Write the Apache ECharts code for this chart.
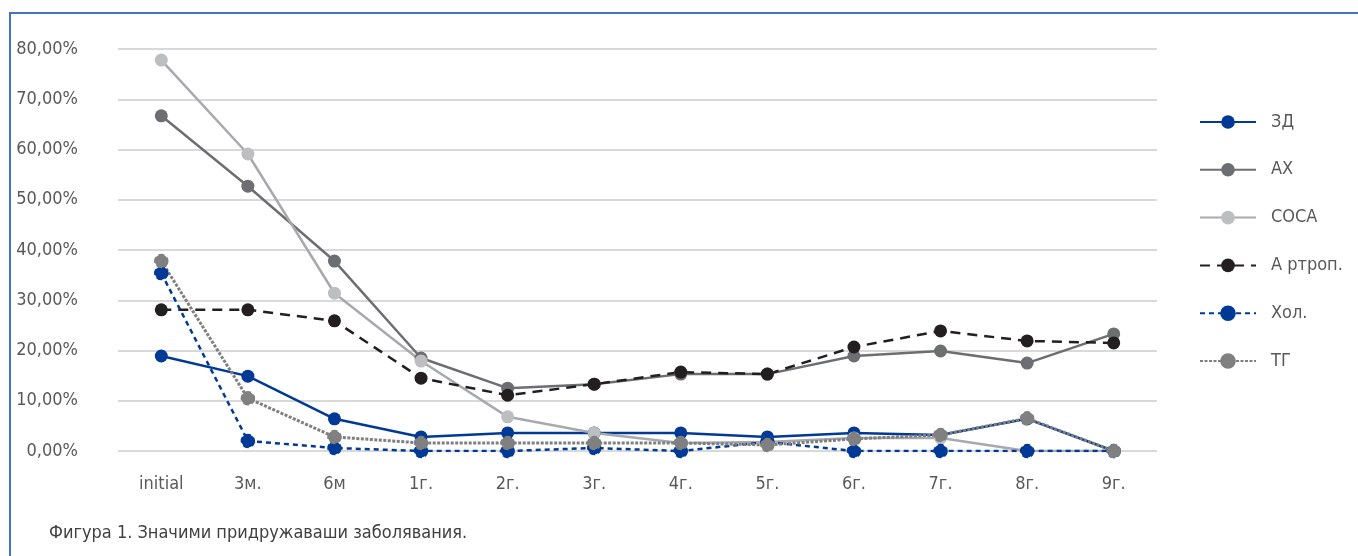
<!DOCTYPE html>
<html>
<head>
<meta charset="utf-8">
<script src="https://cdn.jsdelivr.net/npm/echarts@6/dist/echarts.min.js"></script>
<style>
  html, body { margin: 0; padding: 0; background: #fff; }
  #frame {
    position: absolute; left: 9px; top: 12px; width: 1349px; height: 544px;
    border-top: 2px solid #4472c4; border-left: 2px solid #4472c4;
  }
  #chart { position: absolute; left: 0; top: 0; width: 1358px; height: 556px; }
</style>
</head>
<body>
<div id="frame"></div>
<div id="chart"></div>
<script>
"use strict";

const categories = ["initial", "3м.", "6м", "1г.", "2г.", "3г.", "4г.", "5г.", "6г.", "7г.", "8г.", "9г."];

const zd     = [18.9, 14.9, 6.4, 2.8, 3.6, 3.6, 3.6, 2.8, 3.6, 3.2, 6.4, 0];
const ax     = [66.7, 52.7, 37.8, 18.5, 12.5, 13.3, 15.3, 15.3, 18.9, 19.9, 17.5, 23.3];
const coca   = [77.8, 59.1, 31.4, 17.9, 6.8, 3.6, 1.6, 1.8, 2.6, 2.6, 0, 0];
const artrop = [28.1, 28.1, 25.9, 14.5, 11.1, 13.3, 15.7, 15.3, 20.7, 23.9, 21.9, 21.5];
const hol    = [35.4, 2.0, 0.6, 0, 0, 0.6, 0, 1.8, 0, 0, 0, 0];
const tg     = [37.8, 10.5, 2.8, 1.6, 1.6, 1.6, 1.6, 1.2, 2.4, 3.2, 6.5, 0];

const fontFamily = "'Liberation Sans Narrow', 'DejaVu Sans Condensed', sans-serif";
const textColor = "#595959";

const getElement = (id) => document.getElementById(id);
const chart = echarts.init(getElement("chart"), null, { width: 1358, height: 556 });

const makeSeries = (name, data, color, lineType, width, markerColor, borderType) => ({
  name,
  type: "line",
  data,
  symbol: "circle",
  symbolSize: 13,
  lineStyle: { color, width, type: lineType },
  itemStyle: {
    color: markerColor || color,
    borderColor: color,
    borderWidth: borderType ? 1.5 : 0,
    borderType: borderType || "solid",
  },
  emphasis: { disabled: true },
  animation: false,
});

chart.setOption({
  backgroundColor: "transparent",
  textStyle: { fontFamily },
  title: {
    text: "Фигура 1. Значими придружаваши заболявания.",
    left: 44,
    top: 519,
    textStyle: { fontFamily, fontSize: 18, fontWeight: "normal", color: "#404040" },
  },
  grid: { left: 118, right: 201, top: 49, bottom: 105 },
  legend: {
    orient: "vertical",
    left: 1194,
    top: 108,
    itemWidth: 56,
    itemHeight: 17,
    itemGap: 29.8,
    textStyle: { fontFamily, fontSize: 18, color: textColor, padding: [0, 0, 0, 10] },
    data: ["ЗД", "АХ", "СОСА", "А ртроп.", "Хол.", "ТГ"],
  },
  xAxis: {
    type: "category",
    data: categories,
    boundaryGap: true,
    axisLine: { show: false },
    axisTick: { show: false },
    axisLabel: { fontFamily, fontSize: 18, color: textColor, margin: 24 },
  },
  yAxis: {
    type: "value",
    min: 0,
    max: 80,
    interval: 10,
    axisLine: { show: false },
    axisTick: { show: false },
    splitLine: { lineStyle: { color: "#d9d9d9", width: 2 } },
    axisLabel: {
      fontFamily, fontSize: 18, color: textColor, margin: 40,
      formatter: (v) => v.toFixed(2).replace(".", ",") + "%",
    },
  },
  series: [
    makeSeries("ЗД", zd, "#003a96", "solid", 2.5),
    makeSeries("АХ", ax, "#6d6e71", "solid", 2.5),
    makeSeries("СОСА", coca, "#a7a9ac", "solid", 2.5, "#bcbec0"),
    makeSeries("А ртроп.", artrop, "#231f20", [10, 7], 2.5),
    makeSeries("Хол.", hol, "#003a96", [5, 4], 2.5, "#003a96", "dashed"),
    makeSeries("ТГ", tg, "#7f7f7f", [3, 1.5], 3, "#808080", "dashed"),
  ],
});
</script>
</body>
</html>
